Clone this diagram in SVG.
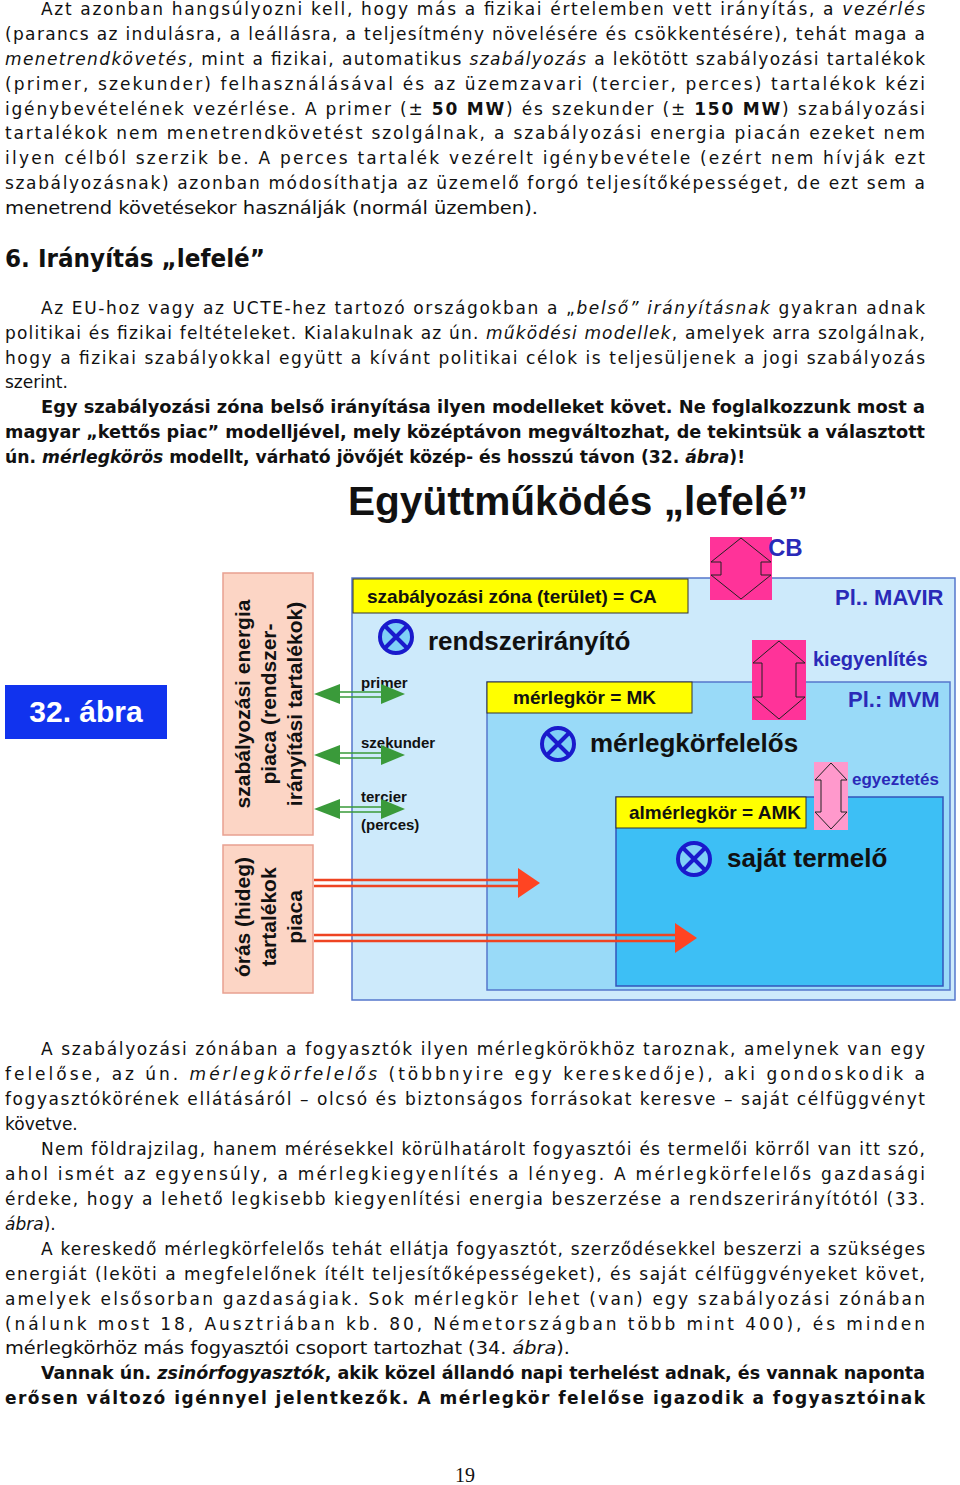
<svg xmlns="http://www.w3.org/2000/svg" width="960" height="1485" viewBox="0 0 960 1485">
<style>
.b{font-family:"DejaVu Sans",Verdana,sans-serif;font-size:17px;fill:#111}
.bb{font-family:"DejaVu Sans",Verdana,sans-serif;font-size:17px;font-weight:bold;fill:#111}
.f{font-family:"Liberation Sans",Arial,sans-serif;font-weight:bold}
.lbl{font-family:"Liberation Sans",Arial,sans-serif;font-weight:bold;font-size:19px;fill:#111}
.big{font-family:"Liberation Sans",Arial,sans-serif;font-weight:bold;font-size:26px;fill:#111}
.blue{font-family:"Liberation Sans",Arial,sans-serif;font-weight:bold;fill:#2a2ab8}
.small{font-family:"Liberation Sans",Arial,sans-serif;font-weight:bold;font-size:15px;fill:#111}
.rot{font-family:"Liberation Sans",Arial,sans-serif;font-weight:bold;font-size:21px;fill:#111}
.yel{fill:#ffff00;stroke:#333;stroke-width:1}
.xc{fill:#7fd0f7;stroke:#1a1acc;stroke-width:4}
.xl{stroke:#1a1acc;stroke-width:4}
.pk{fill:none;stroke:#222;stroke-width:1}
</style>
<rect width="960" height="1485" fill="#fff"/>
<g id="text-top">
<text class="b" x="41" y="15" textLength="884" lengthAdjust="spacing">Azt azonban hangsúlyozni kell, hogy más a fizikai értelemben vett irányítás, a <tspan font-style="italic">vezérlés</tspan></text>
<text class="b" x="5" y="40" textLength="920" lengthAdjust="spacing">(parancs az indulásra, a leállásra, a teljesítmény növelésére és csökkentésére), tehát maga a</text>
<text class="b" x="5" y="65" textLength="920" lengthAdjust="spacing"><tspan font-style="italic">menetrendkövetés</tspan>, mint a fizikai, automatikus <tspan font-style="italic">szabályozás</tspan> a lekötött szabályozási tartalékok</text>
<text class="b" x="5" y="90" textLength="920" lengthAdjust="spacing">(primer, szekunder) felhasználásával és az üzemzavari (tercier, perces) tartalékok kézi</text>
<text class="b" x="5" y="115" textLength="920" lengthAdjust="spacing">igénybevételének vezérlése. A primer (± <tspan font-weight="bold">50 MW</tspan>) és szekunder (± <tspan font-weight="bold">150 MW</tspan>) szabályozási</text>
<text class="b" x="5" y="139" textLength="920" lengthAdjust="spacing">tartalékok nem menetrendkövetést szolgálnak, a szabályozási energia piacán ezeket nem</text>
<text class="b" x="5" y="164" textLength="920" lengthAdjust="spacing">ilyen célból szerzik be. A perces tartalék vezérelt igénybevétele (ezért nem hívják ezt</text>
<text class="b" x="5" y="189" textLength="920" lengthAdjust="spacing">szabályozásnak) azonban módosíthatja az üzemelő forgó teljesítőképességet, de ezt sem a</text>
<text class="b" x="5" y="214" textLength="533" lengthAdjust="spacingAndGlyphs">menetrend követésekor használják (normál üzemben).</text>
<text x="5" y="267" font-family="DejaVu Sans,sans-serif" font-weight="bold" font-size="24" fill="#111" textLength="260" lengthAdjust="spacingAndGlyphs">6. Irányítás „lefelé”</text>
<text class="b" x="41" y="314" textLength="884" lengthAdjust="spacing">Az EU-hoz vagy az UCTE-hez tartozó országokban a „<tspan font-style="italic">belső” irányításnak</tspan> gyakran adnak</text>
<text class="b" x="5" y="339" textLength="920" lengthAdjust="spacing">politikai és fizikai feltételeket. Kialakulnak az ún. <tspan font-style="italic">működési modellek</tspan>, amelyek arra szolgálnak,</text>
<text class="b" x="5" y="364" textLength="920" lengthAdjust="spacing">hogy a fizikai szabályokkal együtt a kívánt politikai célok is teljesüljenek a jogi szabályozás</text>
<text class="b" x="5" y="388">szerint.</text>
<text class="bb" x="41" y="413" textLength="884" lengthAdjust="spacingAndGlyphs">Egy szabályozási zóna belső irányítása ilyen modelleket követ. Ne foglalkozzunk most a</text>
<text class="bb" x="5" y="438" textLength="920" lengthAdjust="spacingAndGlyphs">magyar „kettős piac” modelljével, mely középtávon megváltozhat, de tekintsük a választott</text>
<text class="bb" x="5" y="463" textLength="740" lengthAdjust="spacingAndGlyphs">ún. <tspan font-style="italic">mérlegkörös</tspan> modellt, várható jövőjét közép- és hosszú távon (32. <tspan font-style="italic">ábra</tspan>)!</text>
</g>
<g id="title"><text class="f" x="348" y="515" font-size="40" fill="#111" textLength="460" lengthAdjust="spacingAndGlyphs">Együttműködés „lefelé”</text></g>
<g id="fig-label"><rect x="5" y="685" width="162" height="54" fill="#1133ee"/><text class="f" x="86" y="722" font-size="30" fill="#fff" text-anchor="middle">32. ábra</text></g>
<g id="zone-CA">
<rect x="352" y="578" width="603" height="422" fill="#cdeafb" stroke="#5577cc" stroke-width="1.5"/>
<rect class="yel" x="353" y="579" width="335" height="34"/>
<text class="lbl" x="367" y="603">szabályozási zóna (terület) = CA</text>
<text class="blue" x="835" y="605" font-size="22">Pl.. MAVIR</text>
<circle class="xc" cx="396" cy="637" r="16"/><path class="xl" d="M385 626L407 648M407 626L385 648"/>
<text class="big" x="428" y="650">rendszerirányító</text>
<text class="small" x="361" y="688">primer</text>
<text class="small" x="361" y="748">szekunder</text>
<text class="small" x="361" y="802">tercier</text>
<text class="small" x="361" y="830">(perces)</text>
</g>
<g id="zone-MK">
<rect x="487" y="682" width="463" height="308" fill="#99daf8" stroke="#5577cc" stroke-width="1.5"/>
<rect class="yel" x="487" y="682" width="205" height="31"/>
<text class="lbl" x="513" y="704">mérlegkör = MK</text>
<text class="blue" x="848" y="707" font-size="22">Pl.: MVM</text>
<circle class="xc" cx="558" cy="744" r="16"/><path class="xl" d="M547 733L569 755M569 733L547 755"/>
<text class="big" x="590" y="752">mérlegkörfelelős</text>
</g>
<g id="zone-AMK">
<rect x="616" y="797" width="327" height="189" fill="#3dbff5" stroke="#3355bb" stroke-width="1.5"/>
<rect class="yel" x="616" y="797" width="190" height="31"/>
<text class="lbl" x="629" y="819" font-size="18">almérlegkör = AMK</text>
<circle class="xc" cx="694" cy="859" r="16"/><path class="xl" d="M683 848L705 870M705 848L683 870"/>
<text class="big" x="727" y="867">saját termelő</text>
</g>
<g id="cb">
<rect x="710" y="537" width="62" height="63" fill="#ff3399"/>
<path class="pk" d="M741 538L711 562H721V575H711L741 599L771 575H761V562H771Z"/>
<text class="blue" x="768" y="556" font-size="24" fill="#3333cc">CB</text>
</g>
<g id="kiegyenlites">
<rect x="752" y="640" width="54" height="80" fill="#ff3399"/>
<path class="pk" d="M779 641L753 663H762V697H753L779 719L805 697H796V663H805Z"/>
<text class="blue" x="813" y="666" font-size="20">kiegyenlítés</text>
</g>
<g id="egyeztetes">
<rect x="814" y="762" width="34" height="68" fill="#ff99cc"/>
<path class="pk" d="M831 763L815 780H821V812H815L831 829L847 812H841V780H847Z"/>
<text class="blue" x="852" y="785" font-size="17">egyeztetés</text>
</g>
<g id="market-1">
<rect x="223" y="573" width="90" height="262" fill="#fcd5c5" stroke="#e8a090" stroke-width="1.5"/>
<g transform="translate(268 704) rotate(-90)" class="rot" text-anchor="middle">
<text x="0" y="-18">szabályozási energia</text><text x="0" y="8">piaca (rendszer-</text><text x="0" y="34">irányítási tartalékok)</text></g>
</g>
<g id="market-2">
<rect x="223" y="845" width="90" height="148" fill="#fcd5c5" stroke="#e8a090" stroke-width="1.5"/>
<g transform="translate(268 917) rotate(-90)" class="rot" text-anchor="middle">
<text x="0" y="-18">órás (hideg)</text><text x="0" y="8">tartalékok</text><text x="0" y="34">piaca</text></g>
</g>
<g id="connectors">
<g fill="#3a9a3a">
<path d="M336 692H384M336 697H384" stroke="#3a9a3a" stroke-width="1.5"/><path d="M314 694L340 684V704Z"/><path d="M405 694L381 684V704Z"/>
<path d="M336 753H384M336 758H384" stroke="#3a9a3a" stroke-width="1.5"/><path d="M314 755L340 745V765Z"/><path d="M405 755L381 745V765Z"/>
<path d="M336 807H384M336 812H384" stroke="#3a9a3a" stroke-width="1.5"/><path d="M314 809L340 799V819Z"/><path d="M405 809L381 799V819Z"/>
</g>
<g fill="#ff4422">
<path d="M314 880H520M314 886H520" stroke="#ee4422" stroke-width="2.5"/><path d="M540 883L518 868V898Z"/>
<path d="M314 935H677M314 941H677" stroke="#ee4422" stroke-width="2.5"/><path d="M697 938L675 923V953Z"/>
</g>
</g>
<g id="text-bottom">
<text class="b" x="41" y="1055" textLength="884" lengthAdjust="spacing">A szabályozási zónában a fogyasztók ilyen mérlegkörökhöz taroznak, amelynek van egy</text>
<text class="b" x="5" y="1080" textLength="920" lengthAdjust="spacing">felelőse, az ún. <tspan font-style="italic">mérlegkörfelelős</tspan> (többnyire egy kereskedője), aki gondoskodik a</text>
<text class="b" x="5" y="1105" textLength="920" lengthAdjust="spacing">fogyasztókörének ellátásáról – olcsó és biztonságos forrásokat keresve – saját célfüggvényt</text>
<text class="b" x="5" y="1130">követve.</text>
<text class="b" x="41" y="1155" textLength="884" lengthAdjust="spacing">Nem földrajzilag, hanem mérésekkel körülhatárolt fogyasztói és termelői körről van itt szó,</text>
<text class="b" x="5" y="1180" textLength="920" lengthAdjust="spacing">ahol ismét az egyensúly, a mérlegkiegyenlítés a lényeg. A mérlegkörfelelős gazdasági</text>
<text class="b" x="5" y="1205" textLength="920" lengthAdjust="spacing">érdeke, hogy a lehető legkisebb kiegyenlítési energia beszerzése a rendszerirányítótól (33.</text>
<text class="b" x="5" y="1230"><tspan font-style="italic">ábra</tspan>).</text>
<text class="b" x="41" y="1255" textLength="884" lengthAdjust="spacing">A kereskedő mérlegkörfelelős tehát ellátja fogyasztót, szerződésekkel beszerzi a szükséges</text>
<text class="b" x="5" y="1280" textLength="920" lengthAdjust="spacing">energiát (leköti a megfelelőnek ítélt teljesítőképességeket), és saját célfüggvényeket követ,</text>
<text class="b" x="5" y="1305" textLength="920" lengthAdjust="spacing">amelyek elsősorban gazdaságiak.  Sok mérlegkör lehet (van) egy szabályozási zónában</text>
<text class="b" x="5" y="1330" textLength="920" lengthAdjust="spacing">(nálunk most 18, Ausztriában kb. 80, Németországban több mint 400), és minden</text>
<text class="b" x="5" y="1354" textLength="565" lengthAdjust="spacingAndGlyphs">mérlegkörhöz más fogyasztói csoport tartozhat (34. <tspan font-style="italic">ábra</tspan>).</text>
<text class="bb" x="41" y="1379" textLength="884" lengthAdjust="spacingAndGlyphs">Vannak ún. <tspan font-style="italic">zsinórfogyasztók</tspan>, akik közel állandó napi terhelést adnak, és vannak naponta</text>
<text class="bb" x="5" y="1404" textLength="920" lengthAdjust="spacing">erősen változó igénnyel jelentkezők. A mérlegkör felelőse igazodik a fogyasztóinak</text>
<text x="465" y="1482" font-family="Liberation Serif,serif" font-size="20" text-anchor="middle" fill="#111">19</text>
</g>
</svg>
